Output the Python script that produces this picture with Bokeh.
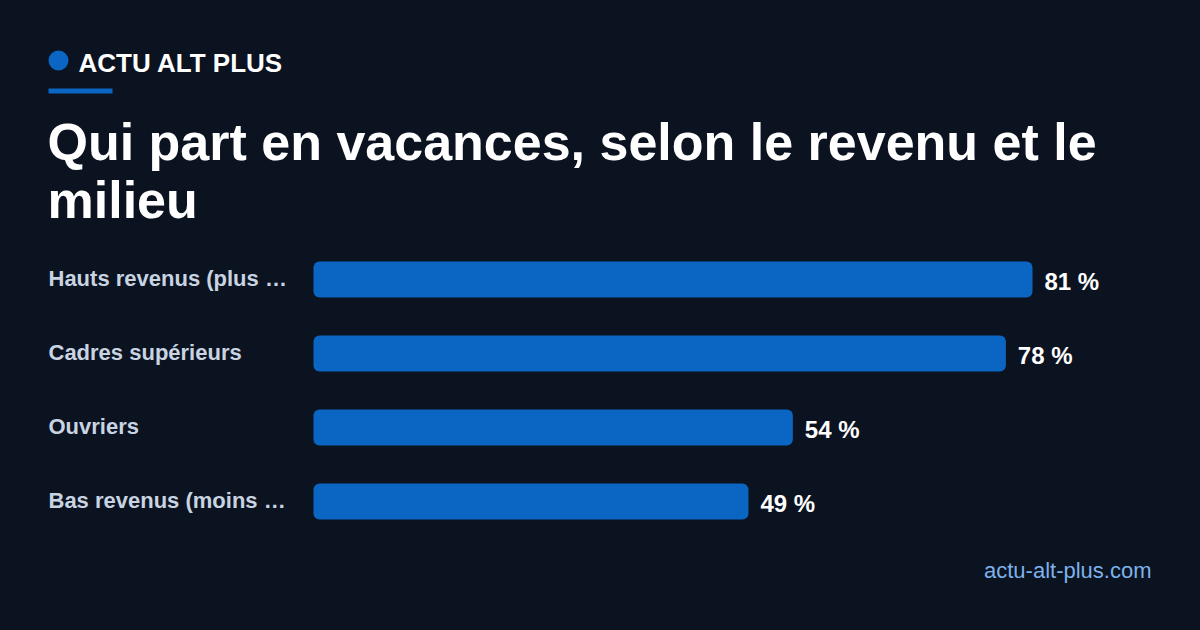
from bokeh.plotting import figure
from bokeh.models import Range1d, Label, BoxAnnotation, ColumnDataSource, GlobalInlineStyleSheet
from bokeh.core.properties import value
from bokeh.embed import file_html
from bokeh.resources import INLINE

categories = ["Hauts revenus (plus …", "Cadres supérieurs", "Ouvriers", "Bas revenus (moins …"]
values = [81, 78, 54, 49]
value_labels = ["81 %", "78 %", "54 %", "49 %"]

BG = "#0b1220"
BAR = "#0b66c3"
FONT = "Liberation Sans"

W, H = 1184, 614
K = 719 / 81.0   # px per percent
X0 = 313         # px of 0 %
Y0 = 279         # px (from top) of first bar centre
DY = 74          # px between bars


def dx(px):
    return (px - X0) / K


def dy(py):
    return (py - Y0) / DY


p = figure(width=W, height=H, output_backend="svg", toolbar_location=None,
           x_range=Range1d(dx(0), dx(W)), y_range=Range1d(dy(H), dy(0)),
           min_border=0, background_fill_color=BG, border_fill_color=BG)
p.axis.visible = False
p.grid.visible = False
p.outline_line_color = None
p.stylesheets = [GlobalInlineStyleSheet(css=f"body{{background:{BG};}}")]

idx = list(range(len(categories)))
src = ColumnDataSource(dict(y=idx, v=values, cat=categories, lab=value_labels))

p.hbar(y="y", left=0, right="v", height=36 / DY, source=src, fill_color=BAR,
       line_color=None, border_radius=6)

p.text(x=0, y="y", text="cat", source=src, x_offset=-265, y_offset=-1,
       text_font=value(FONT), text_font_style="bold", text_font_size="22px",
       text_color="#c9d4e2", text_align="left", text_baseline="middle")

p.text(x="v", y="y", text="lab", source=src, x_offset=12, y_offset=2,
       text_font=value(FONT), text_font_style="bold", text_font_size="24px",
       text_color="#ffffff", text_align="left", text_baseline="middle")

# header
p.scatter(x=[dx(58)], y=[dy(60)], size=20, marker="circle", fill_color=BAR, line_color=None)
p.add_layout(Label(x=dx(78), y=dy(62.5), text="ACTU ALT PLUS", text_font=FONT,
                   text_font_style="bold", text_font_size="26px", text_color="#ffffff",
                   text_baseline="middle"))
p.add_layout(BoxAnnotation(left=dx(48), right=dx(112), top=dy(88), bottom=dy(93),
                           fill_color=BAR, fill_alpha=1, line_color=None))

# title
p.add_layout(Label(x=dx(47), y=dy(141), text="Qui part en vacances, selon le revenu et le",
                   text_font=FONT, text_font_style="bold", text_font_size="52px",
                   text_color="#ffffff", text_baseline="middle"))
p.add_layout(Label(x=dx(47), y=dy(199), text="milieu",
                   text_font=FONT, text_font_style="bold", text_font_size="52px",
                   text_color="#ffffff", text_baseline="middle"))

# footer
p.add_layout(Label(x=dx(1151), y=dy(570), text="actu-alt-plus.com", text_font=FONT,
                   text_font_size="22px", text_color="#7db2ea", text_align="right",
                   text_baseline="middle"))

open("out.html", "w").write(file_html(p, INLINE))
